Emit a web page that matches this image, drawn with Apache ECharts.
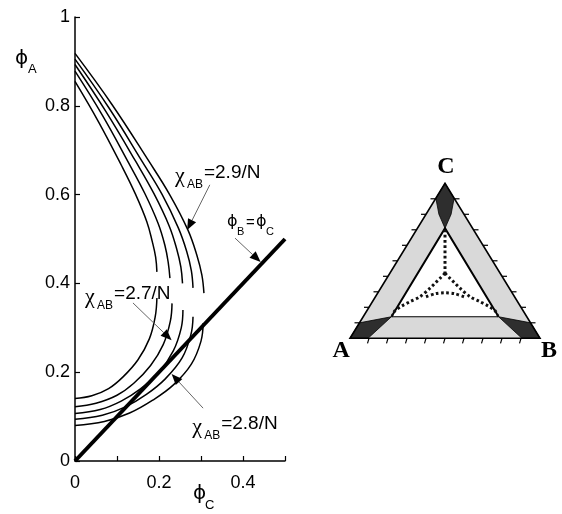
<!DOCTYPE html>
<html><head><meta charset="utf-8">
<script src="https://cdn.jsdelivr.net/npm/echarts@6/dist/echarts.min.js"></script>
<style>html,body{margin:0;padding:0;background:#fff}#c{width:562px;height:514px}</style>
</head><body><div id="c"></div>
<script>
// ---------- left chart: x = phi_C, y = phi_A ----------
const xTickLabels = ['0', '0.2', '0.4'];
const yTickLabels = ['0', '0.2', '0.4', '0.6', '0.8', '1'];

// five binodal curves, innermost (1) to outermost (5): upper and lower branches
const upper1 = [[0,0.855],[0.056,0.764],[0.111,0.665],[0.144,0.601],[0.171,0.539],[0.184,0.494],[0.192,0.459],[0.195,0.426]];
const upper2 = [[0,0.878],[0.065,0.779],[0.128,0.671],[0.166,0.603],[0.198,0.535],[0.214,0.486],[0.222,0.447],[0.226,0.412]];
const upper3 = [[0,0.893],[0.073,0.788],[0.145,0.674],[0.188,0.602],[0.224,0.530],[0.242,0.478],[0.252,0.437],[0.256,0.400]];
const upper4 = [[0,0.905],[0.081,0.795],[0.159,0.676],[0.207,0.601],[0.246,0.525],[0.266,0.472],[0.277,0.429],[0.281,0.390]];
const upper5 = [[0,0.918],[0.088,0.803],[0.174,0.678],[0.226,0.599],[0.269,0.520],[0.290,0.464],[0.302,0.419],[0.307,0.378]];

const lower1 = [[0,0.141],[0.04,0.147],[0.08,0.163],[0.115,0.19],[0.15,0.228],[0.177,0.275],[0.191,0.325],[0.195,0.367]];
const lower2 = [[0,0.122],[0.05,0.13],[0.10,0.148],[0.14,0.175],[0.18,0.215],[0.21,0.262],[0.227,0.315],[0.231,0.355]];
const lower3 = [[0,0.107],[0.06,0.116],[0.11,0.135],[0.155,0.162],[0.20,0.20],[0.234,0.248],[0.253,0.30],[0.257,0.34]];
const lower4 = [[0,0.094],[0.065,0.103],[0.12,0.122],[0.17,0.15],[0.215,0.185],[0.255,0.232],[0.276,0.285],[0.281,0.325]];
const lower5 = [[0,0.080],[0.07,0.089],[0.13,0.108],[0.185,0.137],[0.235,0.172],[0.277,0.218],[0.30,0.27],[0.305,0.31]];

const symmetryLine = [[0,0],[0.5,0.5]];   // phi_B = phi_C

// annotations (text anchors and arrows in data coordinates)
const chiLabels = ['=2.9/N', '=2.7/N', '=2.8/N'];
const chiAnchors = [[0.238,0.667],[0.024,0.394],[0.279,0.101]];
const chiArrows = [
  [[0.321,0.622],[0.267,0.52]],
  [[0.138,0.356],[0.23,0.272]],
  [[0.305,0.119],[0.23,0.196]]
];
const phiLabelAnchor = [[0.362,0.561]];
const phiArrow = [[0.381,0.502],[0.442,0.448]];

// ---------- right: ternary diagram (x across, y up; A=(0,0) B=(1,0) C=(0.5,1)) ----------
const triOuter = [[0,0],[1,0],[0.5,1]];
const triInner = [[0.218,0.139],[0.782,0.139],[0.5,0.71]];
const darkTop = [[0.5,1],[0.452,0.903],[0.468,0.80],[0.5,0.71],[0.532,0.80],[0.548,0.903]];
const darkLeft = [[0,0],[0.095,0],[0.218,0.139],[0.05,0.10]];
const darkRight = [[1,0],[0.905,0],[0.782,0.139],[0.95,0.10]];
const triTickFractions = [0.1,0.2,0.3,0.4,0.5,0.6,0.7,0.8,0.9];
const dotsVertical = [[0.5,0.70],[0.5,0.42]];
const dotsLeft = [[0.5,0.42],[0.474,0.387],[0.447,0.355],[0.421,0.323],[0.368,0.268],[0.316,0.236],[0.272,0.208],[0.237,0.178],[0.222,0.15]];
const dotsRight = [[0.5,0.42],[0.526,0.387],[0.553,0.355],[0.579,0.323],[0.632,0.268],[0.684,0.236],[0.728,0.208],[0.763,0.178],[0.778,0.15]];
const dotsLower = [[0.40,0.268],[0.45,0.288],[0.5,0.294],[0.55,0.288],[0.60,0.268]];
const vertexLabels = ['A','B','C'];
const vertexLabelPos = [[-0.047,-0.082],[1.047,-0.082],[0.505,1.105]];

const chart = echarts.init(document.getElementById('c'), null, {renderer:'canvas'});

const SANS = '"Liberation Sans", Arial, sans-serif';
const PHI = '"DejaVu Sans", sans-serif';
const CHI = '"Liberation Serif", serif';

function curveSeries(data) {
  return { type:'line', xAxisIndex:0, yAxisIndex:0, data, smooth:0.4, showSymbol:false, silent:true,
    lineStyle:{color:'#000', width:1.5}, z:3 };
}

function arrowEls(api, seg) {
  const p0 = api.coord(seg[0]), p1 = api.coord(seg[1]);
  const dx = p1[0]-p0[0], dy = p1[1]-p0[1];
  const L = Math.sqrt(dx*dx+dy*dy), ux = dx/L, uy = dy/L;
  const hl = 11, hw = 4.5;
  const bx = p1[0]-ux*hl, by = p1[1]-uy*hl;
  return [
    {type:'line', shape:{x1:p0[0], y1:p0[1], x2:bx, y2:by}, style:{stroke:'#666', lineWidth:1}},
    {type:'polygon', shape:{points:[p1,[bx-uy*hw, by+ux*hw],[bx+uy*hw, by-ux*hw]]}, style:{fill:'#000'}}
  ];
}

function renderChi(params, api) {
  const i = params.dataIndex;
  const a = api.coord(chiAnchors[i]);
  const els = [
    {type:'text', x:a[0], y:a[1], style:{text:'χ', font:'22px '+CHI, fill:'#000', verticalAlign:'top'}},
    {type:'text', x:a[0]+12, y:a[1]+14, style:{text:'AB', font:'12px '+SANS, fill:'#000', verticalAlign:'top'}},
    {type:'text', x:a[0]+29, y:a[1]-2, style:{text:chiLabels[i], font:'19px '+SANS, fill:'#000', verticalAlign:'top'}}
  ].concat(arrowEls(api, chiArrows[i]));
  return {type:'group', children:els};
}

function renderPhiLabel(params, api) {
  const a = api.coord(phiLabelAnchor[0]);
  const els = [
    {type:'text', x:a[0], y:a[1]+2, style:{text:'ϕ', font:'16px '+PHI, fill:'#000', verticalAlign:'top'}},
    {type:'text', x:a[0]+10, y:a[1]+15, style:{text:'B', font:'11px '+SANS, fill:'#000', verticalAlign:'top'}},
    {type:'text', x:a[0]+19, y:a[1]+3, style:{text:'=', font:'15px '+SANS, fill:'#000', verticalAlign:'top'}},
    {type:'text', x:a[0]+29, y:a[1]+2, style:{text:'ϕ', font:'16px '+PHI, fill:'#000', verticalAlign:'top'}},
    {type:'text', x:a[0]+39, y:a[1]+15, style:{text:'C', font:'11px '+SANS, fill:'#000', verticalAlign:'top'}}
  ].concat(arrowEls(api, phiArrow));
  return {type:'group', children:els};
}

function renderTriangle(params, api) {
  const P = pts => pts.map(p => api.coord(p));
  const ch = [];
  ch.push({type:'polygon', shape:{points:P(triOuter)}, style:{fill:'#d9d9d9'}});
  [darkTop, darkLeft, darkRight].forEach(d => ch.push({type:'polygon', shape:{points:P(d)}, style:{fill:'#2e2e2e', stroke:'#000', lineWidth:0.8}}));
  ch.push({type:'polygon', shape:{points:P(triInner)}, style:{fill:'#fff'}});
  ch.push({type:'polygon', shape:{points:P(triOuter)}, style:{fill:null, stroke:'#000', lineWidth:1.6}});
  const inn = P(triInner);
  ch.push({type:'polyline', shape:{points:[inn[0], inn[2], inn[1]]}, style:{fill:null, stroke:'#000', lineWidth:2}});
  ch.push({type:'line', shape:{x1:inn[0][0], y1:inn[0][1], x2:inn[1][0], y2:inn[1][1]}, style:{stroke:'#000', lineWidth:1.2}});
  triTickFractions.forEach(f => {
    const l = api.coord([0.5*f, f]), r = api.coord([1-0.5*f, f]), b = api.coord([f, 0]);
    ch.push({type:'line', shape:{x1:l[0], y1:l[1], x2:l[0]-5, y2:l[1]}, style:{stroke:'#000', lineWidth:1.2}});
    ch.push({type:'line', shape:{x1:r[0], y1:r[1], x2:r[0]+5, y2:r[1]}, style:{stroke:'#000', lineWidth:1.2}});
    ch.push({type:'line', shape:{x1:b[0], y1:b[1], x2:b[0]-1.5, y2:b[1]+5}, style:{stroke:'#000', lineWidth:1.2}});
  });
  [dotsVertical, dotsLeft, dotsRight, dotsLower].forEach(d => ch.push({type:'polyline', shape:{points:P(d), smooth:0.3},
    style:{fill:null, stroke:'#111', lineWidth:3, lineDash:[2.6,2.6]}}));
  vertexLabels.forEach((t, i) => {
    const c = api.coord(vertexLabelPos[i]);
    ch.push({type:'text', x:c[0], y:c[1], style:{text:t, font:'bold 24px "Liberation Serif", serif', fill:'#000', align:'center', verticalAlign:'middle'}});
  });
  return {type:'group', children:ch};
}

const option = {
  animation:false,
  backgroundColor:'#fff',
  grid:[
    {left:75, top:17, width:210, height:444, containLabel:false},
    {left:350, top:183.3, width:190, height:155, containLabel:false}
  ],
  xAxis:[
    {type:'value', gridIndex:0, min:0, max:0.5, interval:0.1,
      axisLine:{show:true, onZero:false, lineStyle:{color:'#000', width:1.5}},
      axisTick:{show:true, inside:true, length:5, lineStyle:{color:'#000', width:1.2}},
      splitLine:{show:false},
      axisLabel:{margin:13, color:'#000', fontSize:18, fontFamily:SANS,
        formatter: v => { const s = String(+v.toFixed(1)); return xTickLabels.indexOf(s) >= 0 ? s : ''; }}},
    {type:'value', gridIndex:1, min:0, max:1, show:false}
  ],
  yAxis:[
    {type:'value', gridIndex:0, min:0, max:1, interval:0.2,
      axisLine:{show:true, onZero:false, lineStyle:{color:'#000', width:1.5}},
      axisTick:{show:true, inside:true, length:5, lineStyle:{color:'#000', width:1.2}},
      splitLine:{show:false},
      axisLabel:{margin:5, color:'#000', fontSize:18, fontFamily:SANS,
        formatter: v => { const s = String(+v.toFixed(1)); return yTickLabels.indexOf(s) >= 0 ? s : ''; }}},
    {type:'value', gridIndex:1, min:0, max:1, show:false}
  ],
  graphic:[
    {type:'text', left:15, top:49, style:{text:'ϕ', font:'20px '+PHI, fill:'#000'}},
    {type:'text', left:28, top:63, style:{text:'A', font:'13px '+SANS, fill:'#000'}},
    {type:'text', left:193, top:484, style:{text:'ϕ', font:'20px '+PHI, fill:'#000'}},
    {type:'text', left:205, top:499, style:{text:'C', font:'13px '+SANS, fill:'#000'}}
  ],
  series:[
    curveSeries(upper1), curveSeries(upper2), curveSeries(upper3), curveSeries(upper4), curveSeries(upper5),
    curveSeries(lower1), curveSeries(lower2), curveSeries(lower3), curveSeries(lower4), curveSeries(lower5),
    {type:'line', xAxisIndex:0, yAxisIndex:0, data:symmetryLine, showSymbol:false, silent:true,
      lineStyle:{color:'#000', width:4}, z:4},
    {type:'custom', xAxisIndex:0, yAxisIndex:0, data:chiAnchors, renderItem:renderChi, clip:false, silent:true, z:5},
    {type:'custom', xAxisIndex:0, yAxisIndex:0, data:phiLabelAnchor, renderItem:renderPhiLabel, clip:false, silent:true, z:5},
    {type:'custom', xAxisIndex:1, yAxisIndex:1, data:[[0.5,0.5]], renderItem:renderTriangle, clip:false, silent:true, z:2}
  ]
};
chart.setOption(option);
</script></body></html>
